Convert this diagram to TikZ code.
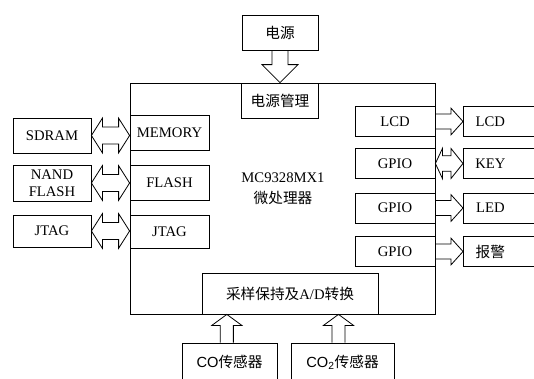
\documentclass[tikz,border=0pt]{standalone}
\usepackage{fontspec}
\setmainfont{Liberation Serif}
\newfontfamily\cjk{Noto Sans CJK SC}
\newfontfamily\arialfont{Liberation Sans}
\usetikzlibrary{calc}

\tikzset{
  blk/.style={draw,line width=0.6pt,line join=miter},
  box/.style={draw,line width=0.6pt,inner sep=0pt,align=center,
              font=\fontsize{11}{12.5}\selectfont},
  outbox/.style={box,anchor=west,minimum width=61.5pt,minimum height=22.5pt},
}

% hollow block arrows between nodes
\newcommand{\rightarr}[2]{%
  \draw[blk] let \p1=(#1), \p2=(#2) in
    (\x1,\y1+5.6pt) -- (\x2-9pt,\y1+5.6pt) -- (\x2-9pt,\y1+10pt) -- (\x2,\y1)
    -- (\x2-9pt,\y1-10pt) -- (\x2-9pt,\y1-5.6pt) -- (\x1,\y1-5.6pt);}
\newcommand{\dblarr}[6]{%
  \draw[blk] let \p1=(#1), \p2=(#2) in
    (\x1,\y1) -- (\x1+#5,\y1+#4) -- (\x1+#5,\y1+#3) -- (\x2-#6,\y1+#3)
    -- (\x2-#6,\y1+#4) -- (\x2,\y1) -- (\x2-#6,\y1-#4) -- (\x2-#6,\y1-#3)
    -- (\x1+#5,\y1-#3) -- (\x1+#5,\y1-#4) -- cycle;}
\newcommand{\arrdown}[5]{%
  \draw[blk] let \p1=(#1), \p2=(#2) in
    (\x1-#3,\y1) -- (\x1-#3,\y2+#5) -- (\x1-#4,\y2+#5) -- (\x1,\y2)
    -- (\x1+#4,\y2+#5) -- (\x1+#3,\y2+#5) -- (\x1+#3,\y1);}
\newcommand{\arrup}[5]{%
  \draw[blk] let \p1=(#1), \p2=(#2) in
    (\x1-#3,\y1) -- (\x1-#3,\y2-#5) -- (\x1-#4,\y2-#5) -- (\x1,\y2)
    -- (\x1+#4,\y2-#5) -- (\x1+#3,\y2-#5) -- (\x1+#3,\y1);}

\begin{document}
\begin{tikzpicture}[x=0.75pt,y=-0.75pt]
  \useasboundingbox (0,0) rectangle (534,378);
  \clip (0,0) rectangle (534,378);

  % processor
  \node[box,minimum width=228.75pt,minimum height=173.25pt] (mcu) at (282.5,198.5) {};
  \node[font=\fontsize{11}{16}\selectfont,align=center] (cpu) at (283,189)
       {MC9328MX1\\{\cjk 微处理器}};

  % power
  \node[box,minimum width=57pt,minimum height=26.25pt] (power) at (280,32.5) {\cjk 电源};
  \node[box,minimum width=57.75pt,minimum height=26.25pt] (pm) at (280,100.5) {\cjk 电源管理};
  \arrdown{power.south}{pm.north}{6pt}{13.5pt}{13.5pt}

  % memory side
  \node[box,minimum width=58.5pt,minimum height=26.25pt] (sdram) at (52,135.5) {SDRAM};
  \node[box,minimum width=58.5pt,minimum height=27pt] (nand) at (52,183) {NAND\\FLASH};
  \node[box,minimum width=58.5pt,minimum height=24pt] (jtago) at (52,231) {JTAG};
  \node[box,minimum width=59.25pt,minimum height=26.25pt] (memory) at (169.5,132.5) {MEMORY};
  \node[box,minimum width=59.25pt,minimum height=26.25pt] (flash) at (169.5,182.5) {FLASH};
  \node[box,minimum width=59.25pt,minimum height=24.75pt] (jtagi) at (169.5,231.5) {JTAG};
  \foreach \a/\b in {sdram/memory,nand/flash,jtago/jtagi}{
    \dblarr{\a.east}{\b.west}{6.4pt}{13pt}{8.25pt}{8.25pt}
  }

  % peripheral side
  \node[box,minimum width=60pt,minimum height=22.5pt] (lcdi) at (395,121.5) {LCD};
  \node[box,minimum width=60pt,minimum height=22.5pt] (gpioa) at (395,163.5) {GPIO};
  \node[box,minimum width=60pt,minimum height=22.5pt] (gpiob) at (395,208) {GPIO};
  \node[box,minimum width=60pt,minimum height=22.5pt] (gpioc) at (395,251.5) {GPIO};
  \node[outbox,label={[xshift=-10.5pt,font=\fontsize{11}{12.5}\selectfont]center:LCD}] (lcdo) at (463,121.5) {};
  \node[outbox,label={[xshift=-10.5pt,font=\fontsize{11}{12.5}\selectfont]center:KEY}] (key) at (463,163.5) {};
  \node[outbox,label={[xshift=-10.5pt,font=\fontsize{11}{12.5}\selectfont]center:LED}] (led) at (463,208) {};
  \node[outbox,label={[xshift=-10.5pt,font=\fontsize{11}{12.5}\selectfont\cjk]center:报警}] (alarm) at (463,251.5) {};
  \rightarr{lcdi.east}{lcdo.west}
  \dblarr{gpioa.east}{key.west}{5.8pt}{11.25pt}{5.25pt}{9pt}
  \rightarr{gpiob.east}{led.west}
  \rightarr{gpioc.east}{alarm.west}

  % sensors
  \node[box,minimum width=132pt,minimum height=30.75pt] (adc) at (290,293.5)
       {{\cjk 采样保持及}A/D{\cjk 转换}};
  \node[box,minimum width=71.25pt,minimum height=28.5pt] (co) at (229.5,362)
       {{\arialfont CO}{\cjk 传感器}};
  \node[box,minimum width=77.25pt,minimum height=28.5pt] (cotwo) at (342.5,362)
       {{\arialfont CO\textsubscript{2}}{\cjk 传感器}};
  \arrup{[xshift=-2pt]co.north}{[xshift=-2pt]co.north |- mcu.south}{4.9pt}{11.25pt}{8.25pt}
  \arrup{[xshift=-3pt]cotwo.north}{[xshift=-3pt]cotwo.north |- mcu.south}{4.9pt}{11.25pt}{8.25pt}
\end{tikzpicture}
\end{document}
